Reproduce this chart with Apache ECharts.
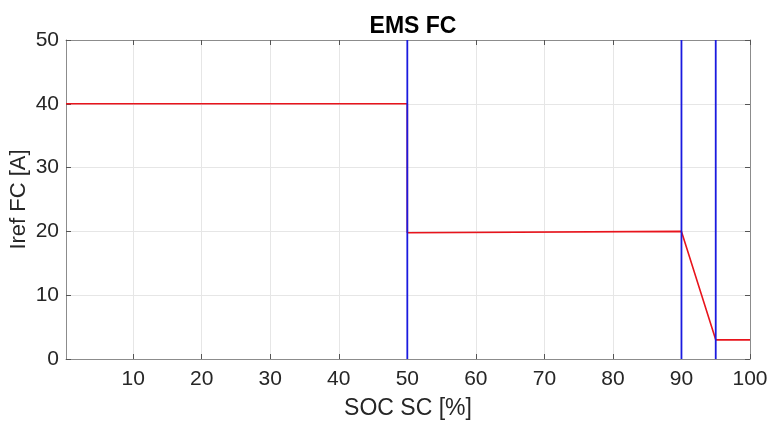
<!DOCTYPE html>
<html>
<head>
<meta charset="utf-8">
<script src="https://cdn.jsdelivr.net/npm/echarts@6/dist/echarts.min.js"></script>
<style>
  html, body { margin: 0; padding: 0; background: #fff; }
  #chart { width: 769px; height: 423px; }
</style>
</head>
<body>
<div id="chart"></div>
<script>
// data
const socX = [0.2, 50, 50, 90, 95, 100]
const irefY = [40, 40, 19.8, 20, 3, 3]
const switchLines = [50, 90, 95]
const xTicks = [10, 20, 30, 40, 50, 60, 70, 80, 90, 100]

const chart = echarts.init(document.getElementById('chart'))

const font = 'Liberation Sans, Arial, sans-serif'
const axisGray = '#8c8c8c'
const gridGray = '#e6e6e6'

const baseX = {
  type: 'value',
  min: 0.2,
  max: 100,
  axisLine: { show: true, onZero: false, lineStyle: { color: axisGray, width: 1 } },
  axisTick: { show: true, inside: true, length: 5, customValues: xTicks, lineStyle: { color: '#555' } },
  splitLine: { show: false }
}
const baseY = {
  type: 'value',
  min: 0,
  max: 50,
  interval: 10,
  axisLine: { show: true, onZero: false, lineStyle: { color: axisGray, width: 1 } },
  axisTick: { show: true, inside: true, length: 5, lineStyle: { color: '#555' } },
  splitLine: { show: false }
}

const redSeries = socX.map((x, i) => [x, irefY[i]])

const option = {
  animation: false,
  title: {
    text: 'EMS FC',
    left: 408,
    textAlign: 'center',
    top: 10,
    textStyle: { fontFamily: font, fontSize: 23, fontWeight: 'bold', color: '#000' }
  },
  grid: { left: 66, right: 19, top: 40, bottom: 64, outerBoundsMode: 'none', containLabel: false },
  xAxis: [
    Object.assign({}, baseX, {
      position: 'bottom',
      name: 'SOC SC [%]',
      nameLocation: 'middle',
      nameGap: 38,
      nameMoveOverlap: false,
      nameTextStyle: { fontFamily: font, fontSize: 23, color: '#262626' },
      axisLabel: { customValues: xTicks, fontFamily: font, fontSize: 21, color: '#262626', margin: 10 },
      splitLine: { show: true, lineStyle: { color: gridGray, width: 1 } }
    }),
    Object.assign({}, baseX, {
      position: 'top',
      axisLabel: { show: false }
    })
  ],
  yAxis: [
    Object.assign({}, baseY, {
      position: 'left',
      name: 'Iref FC [A]',
      nameLocation: 'middle',
      nameGap: 36,
      nameMoveOverlap: false,
      nameTextStyle: { fontFamily: font, fontSize: 22, color: '#262626' },
      axisLabel: { fontFamily: font, fontSize: 21, color: '#262626', margin: 7 },
      splitLine: { show: true, lineStyle: { color: gridGray, width: 1 } }
    }),
    Object.assign({}, baseY, {
      position: 'right',
      axisLabel: { show: false }
    })
  ],
  series: [
    {
      type: 'line',
      data: redSeries,
      showSymbol: false,
      lineStyle: { color: '#e8141c', width: 1.6 },
      z: 2
    },
    ...switchLines.map(x => ({
      type: 'line',
      data: [[x, 0], [x, 50]],
      showSymbol: false,
      lineStyle: { color: '#1a1adf', width: 1.8 },
      z: 3
    }))
  ]
}

chart.setOption(option)
</script>
</body>
</html>
